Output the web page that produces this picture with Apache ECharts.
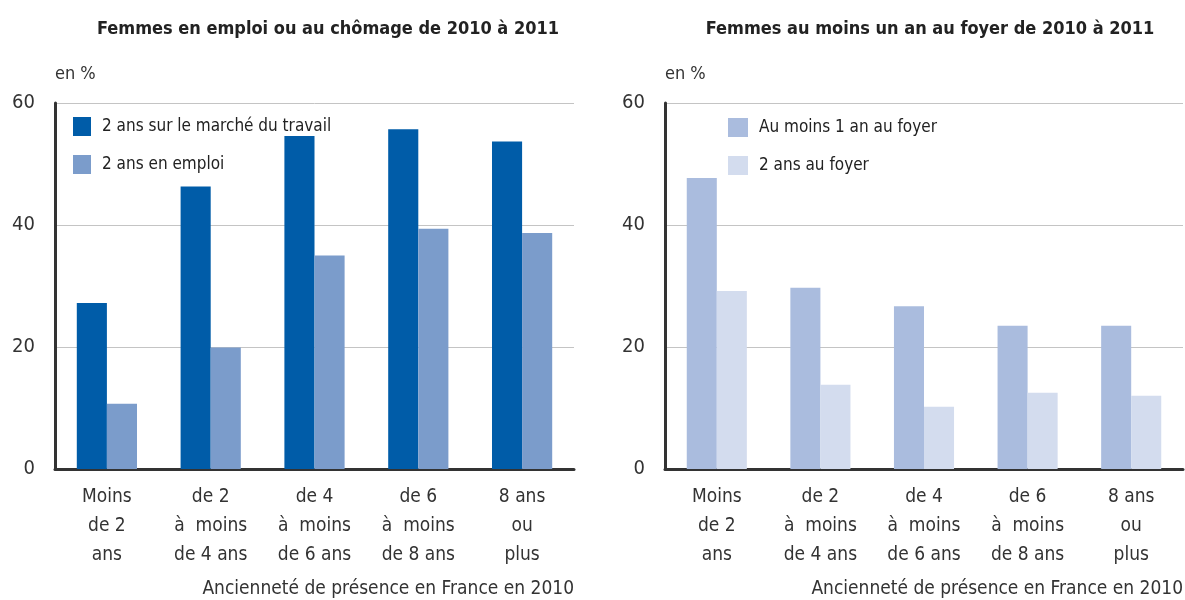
<!DOCTYPE html>
<html lang="fr">
<head>
  <meta charset="UTF-8">
  <title>Femmes en emploi / au foyer</title>
  <script src="https://cdn.jsdelivr.net/npm/echarts@6/dist/echarts.min.js"></script>
  <style>
    html, body { margin: 0; padding: 0; background: #fff; }
  </style>
</head>
<body>
  <div id="chart" style="width:1185px;height:600px;"></div>

  <script>
    // catégories d'ancienneté
    var categories = [
      'Moins\nde 2\nans',
      'de 2\nà  moins\nde 4 ans',
      'de 4\nà  moins\nde 6 ans',
      'de 6\nà  moins\nde 8 ans',
      '8 ans\nou\nplus'
    ];
    // graphique de gauche
    var marcheTravail = [27.2, 46.3, 54.6, 55.7, 53.7];
    var enEmploi = [10.7, 19.9, 35.0, 39.4, 38.7];
    // graphique de droite
    var auMoins1An = [47.7, 29.7, 26.7, 23.5, 23.5];
    var deuxAnsFoyer = [29.2, 13.8, 10.2, 12.5, 12.0];
    var yTicks = [0, 20, 40, 60];

    var FONT = '"Liberation Sans Narrow", "DejaVu Sans Condensed", "Arial Narrow", sans-serif';

    var myChart = echarts.init(document.getElementById('chart'));

    function xAxisDef(idx) {
      return {
        type: 'category',
        gridIndex: idx,
        data: categories,
        axisLine: {lineStyle: {color: '#333', width: 3}},
        axisTick: {show: false},
        axisLabel: {
          color: '#333', fontSize: 19, fontFamily: FONT,
          lineHeight: 29, margin: 14, interval: 0
        }
      };
    }

    function yAxisDef(idx) {
      return {
        type: 'value',
        gridIndex: idx,
        min: yTicks[0],
        max: yTicks[yTicks.length - 1],
        interval: 20,
        name: 'en %',
        nameLocation: 'end',
        nameGap: 20,
        nameTextStyle: {color: '#333', fontSize: 18, fontFamily: FONT, align: 'left'},
        axisLine: {show: true, lineStyle: {color: '#333', width: 3}},
        axisTick: {show: false},
        axisLabel: {color: '#333', fontSize: 20, fontFamily: FONT, margin: 20},
        splitLine: {lineStyle: {color: '#c4c4c4', width: 1}}
      };
    }

    var options = {
      animation: false,
      textStyle: {fontFamily: FONT},
      title: [
        {
          text: 'Femmes en emploi ou au chômage de 2010 à 2011',
          left: 323, top: 15, textAlign: 'center',
          textStyle: {fontSize: 18, fontWeight: 'bold', color: '#222', fontFamily: FONT}
        },
        {
          text: 'Femmes au moins un an au foyer de 2010 à 2011',
          left: 925, top: 15, textAlign: 'center',
          textStyle: {fontSize: 18, fontWeight: 'bold', color: '#222', fontFamily: FONT}
        }
      ],
      legend: [
        {
          orient: 'vertical', left: 68, top: 112,
          itemWidth: 18, itemHeight: 19, itemGap: 19,
          icon: 'rect',
          data: ['2 ans sur le marché du travail', '2 ans en emploi'],
          textStyle: {fontSize: 17, color: '#222', fontFamily: FONT, padding: [0, 0, 0, 6]}
        },
        {
          orient: 'vertical', left: 723, top: 113,
          itemWidth: 20, itemHeight: 19, itemGap: 19,
          icon: 'rect',
          data: ['Au moins 1 an au foyer', '2 ans au foyer'],
          textStyle: {fontSize: 17, color: '#222', fontFamily: FONT, padding: [0, 0, 0, 6]}
        }
      ],
      grid: [
        {left: 55, top: 103, width: 519, height: 366},
        {left: 665, top: 103, width: 518, height: 366}
      ],
      xAxis: [xAxisDef(0), xAxisDef(1)],
      yAxis: [yAxisDef(0), yAxisDef(1)],
      graphic: [
        {
          type: 'text', right: 1185 - 574, top: 580,
          style: {text: 'Ancienneté de présence en France en 2010', fontSize: 19, fill: '#333', fontFamily: FONT}
        },
        {
          type: 'text', right: 2, top: 580,
          style: {text: 'Ancienneté de présence en France en 2010', fontSize: 19, fill: '#333', fontFamily: FONT}
        }
      ],
      series: [
        {
          name: '2 ans sur le marché du travail', type: 'bar',
          xAxisIndex: 0, yAxisIndex: 0, data: marcheTravail,
          barGap: '0%', barCategoryGap: '42%',
          itemStyle: {color: '#005ca8'}
        },
        {
          name: '2 ans en emploi', type: 'bar',
          xAxisIndex: 0, yAxisIndex: 0, data: enEmploi,
          barGap: '0%', barCategoryGap: '42%',
          itemStyle: {color: '#7b9ccb'}
        },
        {
          name: 'Au moins 1 an au foyer', type: 'bar',
          xAxisIndex: 1, yAxisIndex: 1, data: auMoins1An,
          barGap: '0%', barCategoryGap: '42%',
          itemStyle: {color: '#aabcde'}
        },
        {
          name: '2 ans au foyer', type: 'bar',
          xAxisIndex: 1, yAxisIndex: 1, data: deuxAnsFoyer,
          barGap: '0%', barCategoryGap: '42%',
          itemStyle: {color: '#d3dcee'}
        }
      ]
    };

    myChart.setOption(options);
  </script>
</body>
</html>
